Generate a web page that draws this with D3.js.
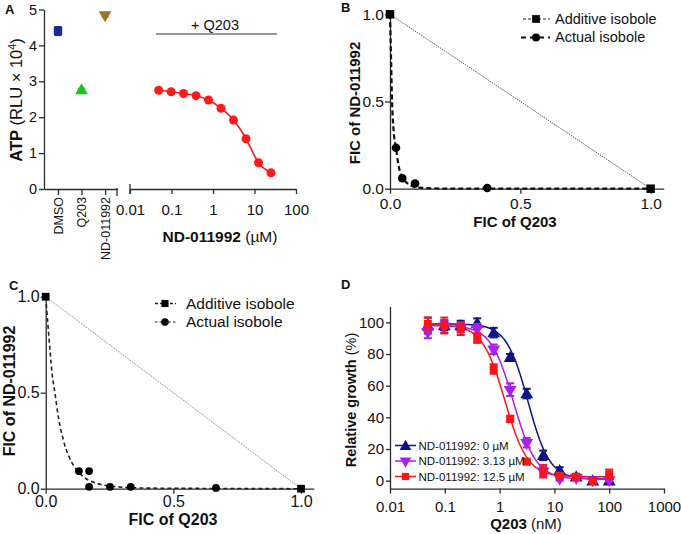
<!DOCTYPE html>
<html><head><meta charset="utf-8">
<script src="https://cdn.jsdelivr.net/npm/d3@7"></script>
<style>
body{margin:0;background:#fff}
svg{display:block;font-family:"Liberation Sans",Arial,Helvetica,sans-serif}
</style></head><body>
<svg id="fig" width="681" height="534"></svg>
<script>
// ---------- Panel A data ----------
const catsA = ["DMSO", "Q203", "ND-011992"];
const atpCtrl = [4.40, 2.77, 4.85];
const atpCtrlErr = [0.12, 0.03, 0.06];
const ctrlColors = ["#1b2a96", "#1fc21f", "#a06f2a"];
const ctrlShapes = ["square", "triangle", "triangleDown"];
const atpTicks = [0, 1, 2, 3, 4, 5];
const ndConc = [0.049, 0.098, 0.195, 0.39, 0.78, 1.56, 3.125, 6.25, 12.5, 25];
const atpNd = [2.75, 2.71, 2.66, 2.60, 2.48, 2.25, 1.92, 1.40, 0.73, 0.45];
const logTicksA = [0.01, 0.1, 1, 10, 100];
const logTickLabelsA = ["0.01", "0.1", "1", "10", "100"];

// ---------- Panels B, C data ----------
const ficTicks = [0, 0.5, 1];
const ficTickLabels = ["0.0", "0.5", "1.0"];
const additiveX = [0, 1];
const additiveY = [1, 0];
const actualBx = [0.023, 0.047, 0.096, 0.373];
const actualBy = [0.235, 0.06, 0.03, 0.004];
const isoCurveBx = [0, 0.004, 0.008, 0.014, 0.023, 0.032, 0.042, 0.06, 0.08, 0.11, 0.2, 1];
const isoCurveBy = [1, 0.75, 0.5, 0.33, 0.235, 0.14, 0.08, 0.04, 0.018, 0.006, 0.001, 0];
const actualCx = [0.13, 0.17, 0.17, 0.252, 0.333, 0.667];
const actualCy = [0.092, 0.092, 0.010, 0.010, 0.010, 0.004];
const isoCurveCx = [0, 0.012, 0.025, 0.036, 0.05, 0.069, 0.09, 0.115, 0.147, 0.2, 0.28, 0.4, 1];
const isoCurveCy = [1, 0.8, 0.6, 0.5, 0.37, 0.254, 0.17, 0.11, 0.063, 0.028, 0.01, 0.003, 0];
const legendIso = ["Additive isobole", "Actual isobole"];

// ---------- Panel D data ----------
const q203Conc = [0.049, 0.098, 0.195, 0.39, 0.78, 1.56, 3.125, 6.25, 12.5, 25, 50, 100];
const growth0 = [98, 98, 98, 99.5, 93.5, 78, 55, 16, 6.5, 2.5, 0, 0];
const growth0Err = [5, 3, 3, 3, 3, 2, 3, 3, 2, 1.5, 2, 1];
const growth313 = [94, 97.5, 96.5, 96, 83, 57.5, 24, 6, 1.5, 2, 0.5, 0.5];
const growth313Err = [4, 4, 3, 3, 3, 4, 3, 3, 1.5, 1.5, 1, 1];
const growth125 = [99, 98, 96, 90, 70.5, 39, 12, 6, 3, 2.5, 0, 4];
const growth125Err = [4, 5, 4, 3, 3, 2, 1, 4, 2, 1.5, 1.5, 3];
const seriesLabelsD = ["ND-011992: 0 \u00B5M", "ND-011992: 3.13 \u00B5M", "ND-011992: 12.5 \u00B5M"];
const seriesColorsD = ["#0c1488", "#a81ff0", "#ff1414"];
const seriesShapesD = ["triangle", "triangleDown", "square"];
// four-parameter logistic fit parameters
const fitTop = [99, 98, 98.5];
const fitBottom = [1, 1, 2.5];
const fitIC50 = [3.3, 1.8, 1.25];
const fitHill = [2.2, 2.1, 2.1];
const logTicksD = [0.01, 0.1, 1, 10, 100, 1000];
const logTickLabelsD = ["0.01", "0.1", "1", "10", "100", "1000"];
const growthTicks = [0, 20, 40, 60, 80, 100];

// ---------- helpers ----------
const svg = d3.select("#fig");
const AX = "#2a2a2a";
const TXT = "#111";

function styleAxis(g, fs) {
  g.select(".domain").attr("stroke", AX).attr("stroke-width", 1.3);
  g.selectAll(".tick line").attr("stroke", AX).attr("stroke-width", 1.3);
  g.selectAll(".tick text").attr("fill", TXT).attr("font-size", fs)
    .attr("font-family", '"Liberation Sans",Arial,sans-serif');
  return g;
}
function symbolPath(shape, size) {
  if (shape === "square") return d3.symbol(d3.symbolSquare, size)();
  if (shape === "circle") return d3.symbol(d3.symbolCircle, size)();
  return d3.symbol(d3.symbolTriangle, size)();
}
function drawSymbol(g, shape, x, y, size, color) {
  const p = g.append("path").attr("d", symbolPath(shape, size)).attr("fill", color);
  if (shape === "triangleDown") p.attr("transform", `translate(${x},${y}) rotate(180)`);
  else if (shape === "triangle") p.attr("transform", `translate(${x},${y + 1})`);
  else p.attr("transform", `translate(${x},${y})`);
  return p;
}
function panelLetter(t, x, y) {
  svg.append("text").attr("x", x).attr("y", y).attr("font-size", 13)
    .attr("font-weight", "bold").attr("fill", TXT).text(t);
}
function ylabel(parts, x, y, fs) {
  const t = svg.append("text").attr("transform", `translate(${x},${y}) rotate(-90)`)
    .attr("text-anchor", "middle").attr("font-size", fs).attr("fill", TXT);
  parts.forEach(p => {
    const s = t.append("tspan").text(p.t);
    if (p.b) s.attr("font-weight", "bold");
    if (p.sup) s.attr("baseline-shift", "super").attr("font-size", fs * 0.65);
  });
}
function xlabel(parts, x, y, fs) {
  const t = svg.append("text").attr("x", x).attr("y", y)
    .attr("text-anchor", "middle").attr("font-size", fs).attr("fill", TXT);
  parts.forEach(p => {
    const s = t.append("tspan").text(p.t);
    if (p.b) s.attr("font-weight", "bold");
  });
}

// ================= Panel A =================
panelLetter("A", 5, 13.5);
const yA = d3.scaleLinear().domain([0, 5]).range([189, 9.5]);
styleAxis(svg.append("g").attr("transform", "translate(44,0)")
  .call(d3.axisLeft(yA).tickValues(atpTicks).tickFormat(d3.format("d"))
    .tickSize(5).tickPadding(2).tickSizeOuter(0)), 14.5);

const xCat = d3.scalePoint().domain(catsA).range([44, 117]).padding(0.55).align(0.54);
const gxc = styleAxis(svg.append("g").attr("transform", "translate(0,189)")
  .call(d3.axisBottom(xCat).tickSize(6).tickSizeOuter(0).tickFormat("")), 12);
gxc.append("line").attr("x1", 117).attr("x2", 117).attr("y1", -1).attr("y2", 7)
  .attr("stroke", AX).attr("stroke-width", 1.3);
catsA.forEach(c => {
  svg.append("text").attr("transform", `translate(${xCat(c) + 4.8},197) rotate(-90)`)
    .attr("text-anchor", "end").attr("font-size", 12.5).attr("fill", TXT).text(c);
});
catsA.forEach((c, i) => {
  const x = xCat(c), y = yA(atpCtrl[i]);
  const e = atpCtrlErr[i];
  svg.append("line").attr("x1", x).attr("x2", x).attr("y1", yA(atpCtrl[i] - e)).attr("y2", yA(atpCtrl[i] + e))
    .attr("stroke", ctrlColors[i]).attr("stroke-width", 1.5);
  [atpCtrl[i] - e, atpCtrl[i] + e].forEach(v => svg.append("line")
    .attr("x1", x - 3.5).attr("x2", x + 3.5).attr("y1", yA(v)).attr("y2", yA(v))
    .attr("stroke", ctrlColors[i]).attr("stroke-width", 1.5));
  drawSymbol(svg, ctrlShapes[i], x, y, 70, ctrlColors[i]);
});

ylabel([{ t: "ATP", b: true }, { t: " (RLU \u00D7 10" }, { t: "4", sup: true }, { t: ")" }], 22, 100, 16.5);

const xA = d3.scaleLog().domain([0.01, 100]).range([130, 296]);
styleAxis(svg.append("g").attr("transform", "translate(0,189)")
  .call(d3.axisBottom(xA).tickValues(logTicksA).tickFormat((d, i) => logTickLabelsA[i])
    .tickSize(5).tickPadding(10).tickSizeOuter(0)), 15);
svg.append("line").attr("x1", 130).attr("x2", 130).attr("y1", 184).attr("y2", 194)
  .attr("stroke", AX).attr("stroke-width", 1.3);

const lineA = d3.line().x((d, i) => xA(ndConc[i])).y(d => yA(d)).curve(d3.curveMonotoneX);
svg.append("path").attr("d", lineA(atpNd)).attr("fill", "none").attr("stroke", "#ff1a1a").attr("stroke-width", 1.6);
atpNd.forEach((v, i) => svg.append("circle").attr("cx", xA(ndConc[i])).attr("cy", yA(v)).attr("r", 4.5).attr("fill", "#ff1a1a"));

svg.append("text").attr("x", 215).attr("y", 30).attr("text-anchor", "middle").attr("font-size", 14.5).attr("fill", TXT).text("+ Q203");
svg.append("line").attr("x1", 156).attr("x2", 277).attr("y1", 34).attr("y2", 34).attr("stroke", "#333").attr("stroke-width", 1);

xlabel([{ t: "ND-011992", b: true }, { t: " (\u00B5M)" }], 220, 242, 15.5);

// ================= Panel B =================
panelLetter("B", 341, 12);
const xB = d3.scaleLinear().domain([0, 1.05]).range([390, 663.7]);
const yB = d3.scaleLinear().domain([0, 1.02]).range([188.7, 10.8]);
styleAxis(svg.append("g").attr("transform", "translate(0,188.7)")
  .call(d3.axisBottom(xB).tickValues(ficTicks).tickFormat((d, i) => ficTickLabels[i])
    .tickSize(5).tickPadding(4).tickSizeOuter(0)), 15.5);
styleAxis(svg.append("g").attr("transform", "translate(390,0)")
  .call(d3.axisLeft(yB).tickValues(ficTicks).tickFormat((d, i) => ficTickLabels[i])
    .tickSize(5).tickPadding(1).tickSizeOuter(0)), 15.5);

const lineB = d3.line().x(d => xB(d[0])).y(d => yB(d[1]));
svg.append("path").attr("d", lineB(additiveX.map((x, i) => [x, additiveY[i]])))
  .attr("fill", "none").attr("stroke", "#444").attr("stroke-width", 0.9).attr("stroke-dasharray", "1.5,1");
svg.append("path").attr("d", lineB.curve(d3.curveMonotoneX)(isoCurveBx.map((x, i) => [x, isoCurveBy[i]])))
  .attr("fill", "none").attr("stroke", "#111").attr("stroke-width", 2.2).attr("stroke-dasharray", "5,3");
actualBx.forEach((x, i) => svg.append("circle").attr("cx", xB(x)).attr("cy", yB(actualBy[i])).attr("r", 4.3).attr("fill", "#000"));
additiveX.forEach((x, i) => drawSymbol(svg, "square", xB(x), yB(additiveY[i]), 72, "#000"));

// legend B
svg.append("line").attr("x1", 523).attr("x2", 550).attr("y1", 19).attr("y2", 19).attr("stroke", "#222").attr("stroke-width", 1.2).attr("stroke-dasharray", "3,2");
drawSymbol(svg, "square", 536, 19, 60, "#000");
svg.append("line").attr("x1", 521).attr("x2", 550).attr("y1", 37.5).attr("y2", 37.5).attr("stroke", "#111").attr("stroke-width", 2.2).attr("stroke-dasharray", "5,4");
svg.append("circle").attr("cx", 536).attr("cy", 37.5).attr("r", 4).attr("fill", "#000");
legendIso.forEach((t, i) => svg.append("text").attr("x", 555).attr("y", 23.5 + i * 18.5).attr("font-size", 14.5).attr("fill", TXT).text(t));

ylabel([{ t: "FIC of ND-011992", b: true }, ], 360, 103, 15);
xlabel([{ t: "FIC of Q203", b: true }], 515, 226.5, 15);

// ================= Panel C =================
panelLetter("C", 9, 289.5);
const xC = d3.scaleLinear().domain([0, 1.05]).range([45.7, 313.8]);
const yC = d3.scaleLinear().domain([0, 1.02]).range([488.7, 292.9]);
styleAxis(svg.append("g").attr("transform", "translate(0,488.7)")
  .call(d3.axisBottom(xC).tickValues(ficTicks).tickFormat((d, i) => ficTickLabels[i])
    .tickSize(5).tickPadding(2).tickSizeOuter(0)), 16);
styleAxis(svg.append("g").attr("transform", "translate(45.7,0)")
  .call(d3.axisLeft(yC).tickValues(ficTicks).tickFormat((d, i) => ficTickLabels[i])
    .tickSize(5).tickPadding(1).tickSizeOuter(0)), 16);

const lineC = d3.line().x(d => xC(d[0])).y(d => yC(d[1]));
svg.append("path").attr("d", lineC(additiveX.map((x, i) => [x, additiveY[i]])))
  .attr("fill", "none").attr("stroke", "#777").attr("stroke-width", 0.9).attr("stroke-dasharray", "1.2,1");
svg.append("path").attr("d", lineC.curve(d3.curveMonotoneX)(isoCurveCx.map((x, i) => [x, isoCurveCy[i]])))
  .attr("fill", "none").attr("stroke", "#222").attr("stroke-width", 1.6).attr("stroke-dasharray", "4,3");
actualCx.forEach((x, i) => svg.append("circle").attr("cx", xC(x)).attr("cy", yC(actualCy[i])).attr("r", 3.9).attr("fill", "#000"));
additiveX.forEach((x, i) => drawSymbol(svg, "square", xC(x), yC(additiveY[i]), 60, "#000"));

svg.append("line").attr("x1", 155).attr("x2", 176).attr("y1", 303.5).attr("y2", 303.5).attr("stroke", "#222").attr("stroke-width", 1.5).attr("stroke-dasharray", "3,2");
drawSymbol(svg, "square", 165, 303.5, 50, "#000");
svg.append("line").attr("x1", 155).attr("x2", 176).attr("y1", 322).attr("y2", 322).attr("stroke", "#222").attr("stroke-width", 1.2).attr("stroke-dasharray", "2.5,2");
svg.append("circle").attr("cx", 165).attr("cy", 322).attr("r", 3.8).attr("fill", "#000");
legendIso.forEach((t, i) => svg.append("text").attr("x", 186).attr("y", 308.5 + i * 18.5).attr("font-size", 15.5).attr("fill", TXT).text(t));

ylabel([{ t: "FIC of ND-011992", b: true }], 15, 391, 16);
xlabel([{ t: "FIC of Q203", b: true }], 173, 525, 16);

// ================= Panel D =================
panelLetter("D", 341, 288.5);
const xD = d3.scaleLog().domain([0.01, 1000]).range([390, 664]);
const yD = d3.scaleLinear().domain([-5, 110]).range([488.6, 306.5]);
styleAxis(svg.append("g").attr("transform", `translate(0,${yD(-5)})`)
  .call(d3.axisBottom(xD).tickValues(logTicksD).tickFormat((d, i) => logTickLabelsD[i])
    .tickSize(5).tickPadding(8).tickSizeOuter(0)), 15);
styleAxis(svg.append("g").attr("transform", "translate(390,0)")
  .call(d3.axisLeft(yD).tickValues(growthTicks).tickFormat(d3.format("d"))
    .tickSize(4).tickPadding(2).tickSizeOuter(0)), 15);

const seriesD = [growth0, growth313, growth125];
const seriesErrD = [growth0Err, growth313Err, growth125Err];
const nFit = 120;
const fitConc = d3.range(nFit + 1).map(i => Math.pow(10, Math.log10(q203Conc[0]) + i * (Math.log10(q203Conc[q203Conc.length - 1]) - Math.log10(q203Conc[0])) / nFit));
const lineD = d3.line().x(d => xD(d[0])).y(d => yD(d[1]));
seriesD.forEach((s, k) => {
  const pts = fitConc.map(c => [c, fitBottom[k] + (fitTop[k] - fitBottom[k]) / (1 + Math.pow(c / fitIC50[k], fitHill[k]))]);
  svg.append("path").attr("d", lineD(pts)).attr("fill", "none").attr("stroke", seriesColorsD[k]).attr("stroke-width", 1.5);
});
seriesD.forEach((s, k) => {
  const col = seriesColorsD[k];
  s.forEach((v, i) => {
    const x = xD(q203Conc[i]), e = seriesErrD[k][i];
    svg.append("line").attr("x1", x).attr("x2", x).attr("y1", yD(v - e)).attr("y2", yD(v + e)).attr("stroke", col).attr("stroke-width", 1.8);
    [v - e, v + e].forEach(w => svg.append("line").attr("x1", x - 4).attr("x2", x + 4).attr("y1", yD(w)).attr("y2", yD(w)).attr("stroke", col).attr("stroke-width", 2));
    drawSymbol(svg, seriesShapesD[k], x, yD(v), seriesShapesD[k] === "square" ? 64 : 72, col);
  });
});
seriesLabelsD.forEach((t, k) => {
  const y = 445.5 + k * 15.5;
  svg.append("line").attr("x1", 395).attr("x2", 416).attr("y1", y).attr("y2", y).attr("stroke", seriesColorsD[k]).attr("stroke-width", 1.5);
  drawSymbol(svg, seriesShapesD[k], 405.5, y, seriesShapesD[k] === "square" ? 52 : 60, seriesColorsD[k]);
  svg.append("text").attr("x", 418.5).attr("y", y + 4).attr("font-size", 11.5).attr("fill", TXT).text(t);
});

ylabel([{ t: "Relative growth", b: true }, { t: " (%)" }], 356, 400, 14.5);
xlabel([{ t: "Q203", b: true }, { t: " (nM)" }], 526, 528.5, 15);
</script>
</body></html>
